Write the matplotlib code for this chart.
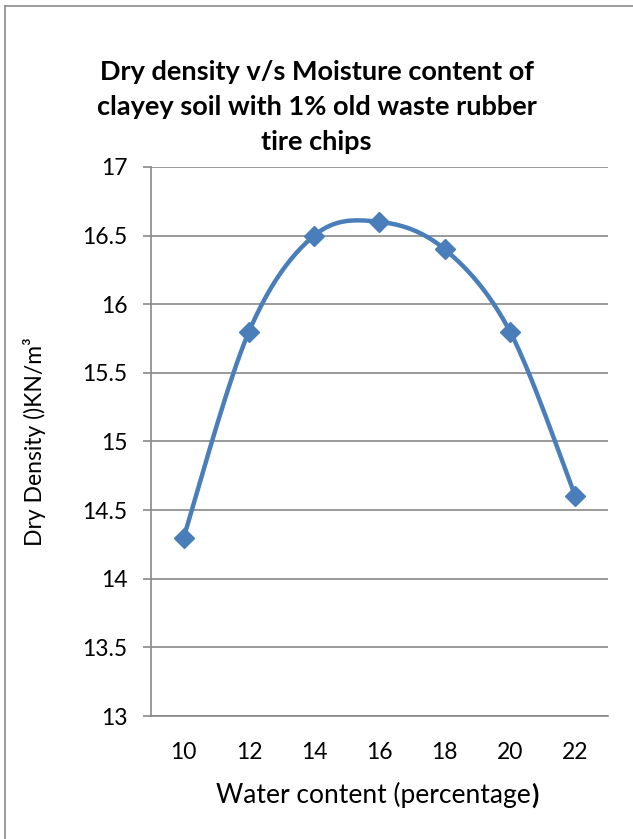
import matplotlib
matplotlib.use('Agg')
import matplotlib.pyplot as plt
from matplotlib.lines import Line2D
import numpy as np

plt.rcParams['font.family'] = ['Lato', 'DejaVu Sans']

# water content (%) and dry density (kN/m3)
water_content = [10, 12, 14, 16, 18, 20, 22]
dry_density = [14.3, 15.8, 16.5, 16.6, 16.4, 15.8, 14.6]
y_ticks = [13, 13.5, 14, 14.5, 15, 15.5, 16, 16.5, 17]

title = 'Dry density v/s Moisture content of\nclayey soil with 1% old waste rubber\ntire chips'
blue = '#4A7EBB'
grid_gray = '#898989'


def smooth_curve(xs, ys, n=40):
    # catmull-rom style bezier segments, same idea as a smoothed spreadsheet line
    pts = np.column_stack([xs, ys]).astype(float)
    out = []
    for i in range(len(pts) - 1):
        p0 = pts[i]
        p3 = pts[i + 1]
        prev = pts[i - 1] if i > 0 else pts[i]
        nxt = pts[i + 2] if i + 2 < len(pts) else pts[i + 1]
        p1 = p0 + (p3 - prev) / 6.0
        p2 = p3 - (nxt - p0) / 6.0
        t = np.linspace(0, 1, n)[:, None]
        seg = ((1 - t) ** 3) * p0 + 3 * ((1 - t) ** 2) * t * p1 + 3 * (1 - t) * t ** 2 * p2 + t ** 3 * p3
        out.append(seg if i == 0 else seg[1:])
    out = np.vstack(out)
    return out[:, 0], out[:, 1]


fig = plt.figure(figsize=(6.33, 8.39), dpi=100)
ax = fig.add_axes([0.2385, 0.1466, 0.7220, 0.6544])

cx, cy = smooth_curve(water_content, dry_density)
ax.plot(cx, cy, color=blue, lw=3.2, solid_capstyle='round', zorder=3)
ax.plot(water_content, dry_density, ls='none', marker='D', ms=10, color=blue, zorder=4)

ax.set_xlim(9, 23)
ax.set_ylim(13, 17)
ax.set_xticks(water_content)
ax.set_xticklabels([str(v) for v in water_content])
ax.set_yticks(y_ticks)
ax.set_yticklabels(['%g' % v for v in y_ticks])

ax.grid(axis='y', color=grid_gray, lw=1.2)
ax.set_axisbelow(True)
for side in ['top', 'right']:
    ax.spines[side].set_visible(False)
for side in ['left', 'bottom']:
    ax.spines[side].set_color(grid_gray)
    ax.spines[side].set_linewidth(1.2)

ax.tick_params(axis='y', length=6, width=1.2, color=grid_gray, pad=11, labelsize=16.5)
ax.tick_params(axis='x', length=0, pad=19, labelsize=16.5)

ax.set_ylabel('Dry Density ()KN/m³', fontsize=16.5)
ax.yaxis.set_label_coords(-0.23, 0.5)

xl = fig.text(0.59, 0.0525, 'Water content (percentage', fontsize=19, ha='center', va='center')
ax.annotate(')', xy=(1, 0), xycoords=xl, va='bottom', ha='left', fontsize=19, fontweight='bold')

fig.text(0.5, 0.8725, title, ha='center', va='center', fontsize=19.5, fontweight='bold',
         linespacing=1.53)

# chart frame (only top and left edges fall inside the image)
fig.add_artist(Line2D([0.008, 1.0], [0.993, 0.993], color='#8c8c8c', lw=1.2))
fig.add_artist(Line2D([0.008, 0.008], [0.0, 0.993], color='#8c8c8c', lw=1.2))

fig.savefig('out.png', dpi=100)
